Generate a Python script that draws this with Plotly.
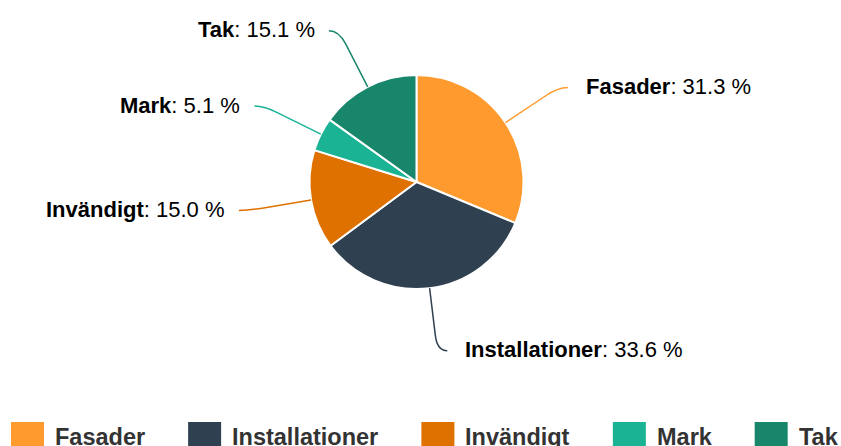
import math
import plotly.graph_objects as go

# ---- data ----
categories = ["Fasader", "Installationer", "Invändigt", "Mark", "Tak"]
shares = [31.3, 33.6, 15.0, 5.1, 15.1]
colors = ["#fe9a2e", "#2f4050", "#df7100", "#1ab394", "#17866a"]

# ---- layout constants (pixels) ----
W, H = 841, 446
CX, CY, R = 416.5, 182.0, 107.0
LABEL_R = 170.0
LABEL_FONT = 22
LEGEND_FONT = 23.5

# Arial/Liberation Sans Bold advance widths (per 1000 em) for legend layout
BOLD_W = {"F": 611, "a": 556, "s": 556, "d": 611, "e": 556, "r": 389, "I": 278,
          "n": 611, "t": 333, "l": 278, "i": 278, "o": 611, "v": 556, "ä": 556,
          "g": 611, "M": 833, "k": 556, "T": 611}


def text_width(s, size):
    return sum(BOLD_W.get(ch, 556) for ch in s) / 1000.0 * size


fig = go.Figure()

# invisible trace to create pixel-space axes for shapes / annotations
fig.add_trace(go.Scatter(x=[0, W], y=[0, H], mode="markers",
                         marker=dict(opacity=0), hoverinfo="skip", showlegend=False))

fig.add_trace(go.Pie(
    labels=categories, values=shares, sort=False, direction="clockwise",
    rotation=0, textinfo="none", showlegend=False,
    marker=dict(colors=colors, line=dict(color="#ffffff", width=2)),
    domain=dict(x=[(CX - R) / W, (CX + R) / W], y=[1 - (CY + R) / H, 1 - (CY - R) / H]),
    hovertemplate="%{label}: %{value:.1f} %<extra></extra>",
))

shapes = []
annotations = []
total = sum(shares)
cum = 0.0
for name, v, col in zip(categories, shares, colors):
    mid = (cum + v / 2.0) / total * 2 * math.pi
    cum += v
    s, c = math.sin(mid), math.cos(mid)
    side = 1 if s >= 0 else -1
    ex, ey = CX + R * s, CY - R * c
    ly = CY - LABEL_R * c
    kx = CX + LABEL_R * s
    sx = kx + side * 10
    px, py = CX + (LABEL_R - 15) * s, CY - (LABEL_R - 15) * c
    shapes.append(dict(type="path", xref="x", yref="y",
                       path=f"M {sx:.1f},{ly:.1f} Q {kx:.1f},{ly:.1f} {px:.1f},{py:.1f} L {ex:.1f},{ey:.1f}",
                       line=dict(color=col, width=1.5)))
    tx = sx + side * (16 if side > 0 else 12)
    annotations.append(dict(x=tx, y=ly - 1, xref="x", yref="y", showarrow=False,
                            xanchor="left" if side > 0 else "right", yanchor="middle",
                            text=f"<b>{name}</b>: {v:.1f} %",
                            font=dict(size=LABEL_FONT, color="#000000",
                                      family="Liberation Sans, Arial, sans-serif")))

# ---- custom legend ----
x = 11.0
SQ = 33
for name, col in zip(categories, colors):
    shapes.append(dict(type="rect", xref="x", yref="y", x0=x, x1=x + SQ, y0=422, y1=422 + SQ,
                       fillcolor=col, line=dict(width=0)))
    tx = x + SQ + 11
    annotations.append(dict(x=tx - 2, y=437, xref="x", yref="y", showarrow=False,
                            xanchor="left", yanchor="middle", text=f"<b>{name}</b>",
                            font=dict(size=LEGEND_FONT, color="#333333",
                                      family="Liberation Sans, Arial, sans-serif")))
    x = tx + text_width(name, LEGEND_FONT) + 43

fig.update_layout(
    width=W, height=H, margin=dict(l=0, r=0, t=0, b=0),
    paper_bgcolor="#ffffff", plot_bgcolor="#ffffff",
    xaxis=dict(range=[0, W], visible=False, fixedrange=True),
    yaxis=dict(range=[H, 0], visible=False, fixedrange=True),
    shapes=shapes, annotations=annotations, showlegend=False,
)

fig.write_html("out.html", post_script="document.body.style.margin='0';",
               config={"displayModeBar": False})
